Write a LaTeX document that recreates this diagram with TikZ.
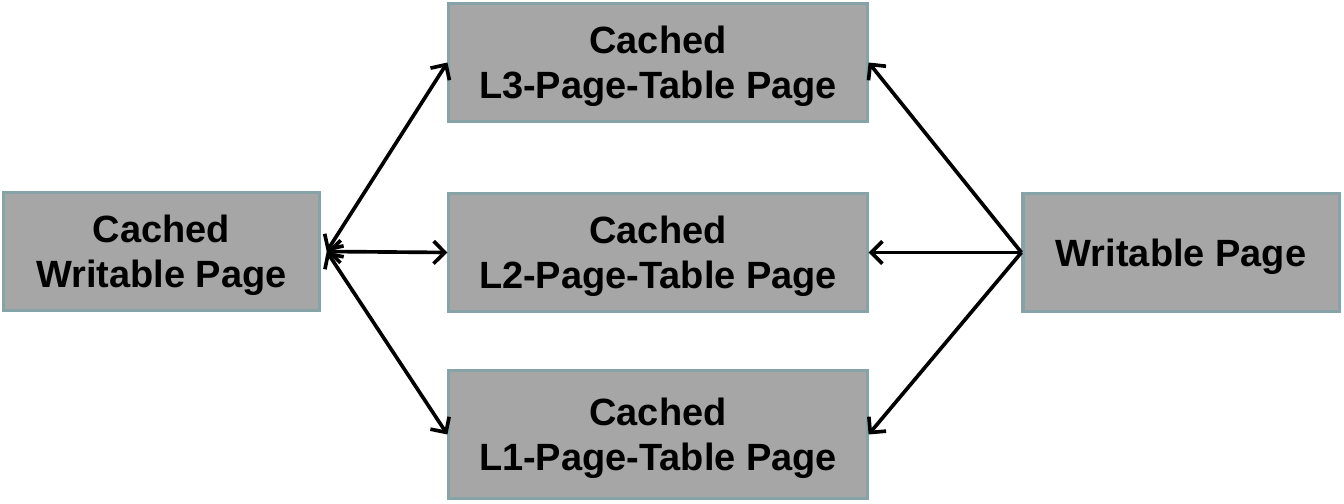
\documentclass[tikz,border=0pt]{standalone}
\usepackage{fontspec}
\setmainfont{Liberation Sans}
\usetikzlibrary{arrows.meta}
\definecolor{boxfill}{RGB}{166,166,166}
\definecolor{boxline}{RGB}{134,164,168}

\begin{document}
\begin{tikzpicture}[x=0.025cm, y=-0.025cm,
    every node/.style={font=\fontsize{27}{32}\selectfont\bfseries},
    pagebox/.style={draw=boxline, line width=2.2pt, fill=boxfill, align=center,
        minimum width=7.9cm, minimum height=2.95cm, inner sep=0pt, text depth=0pt},
    link/.style={line width=2.6pt, {Straight Barb[length=8pt,width=16pt,line width=2.6pt]}-{Straight Barb[length=8pt,width=16pt,line width=2.6pt]}},
    push/.style={line width=2.6pt, -{Straight Barb[length=8pt,width=16pt,line width=2.6pt]}}]
    \useasboundingbox (0,0) rectangle (1344,504);
    \node[pagebox] (cw) at (161.5,251.5) {Cached\\Writable Page};
    \node[pagebox, minimum width=10.45cm] (l3) at (658,62.5) {Cached\\L3-Page-Table Page};
    \node[pagebox, minimum width=10.45cm] (l2) at (658,252.5) {Cached\\L2-Page-Table Page};
    \node[pagebox, minimum width=10.45cm, minimum height=3.2cm] (l1) at (658,434.5) {Cached\\L1-Page-Table Page};
    \node[pagebox] (wp) at (1181,252.5) {Writable Page};
    \coordinate (hub) at ([xshift=4]cw.east);
    \draw[link] (hub) -- (l3.west);
    \draw[link] (hub) -- (l2.west);
    \draw[link] (hub) -- (l1.west);
    \draw[push] (wp.west) -- (l3.east);
    \draw[push] (wp.west) -- (l2.east);
    \draw[push] (wp.west) -- (l1.east);
\end{tikzpicture}
\end{document}
